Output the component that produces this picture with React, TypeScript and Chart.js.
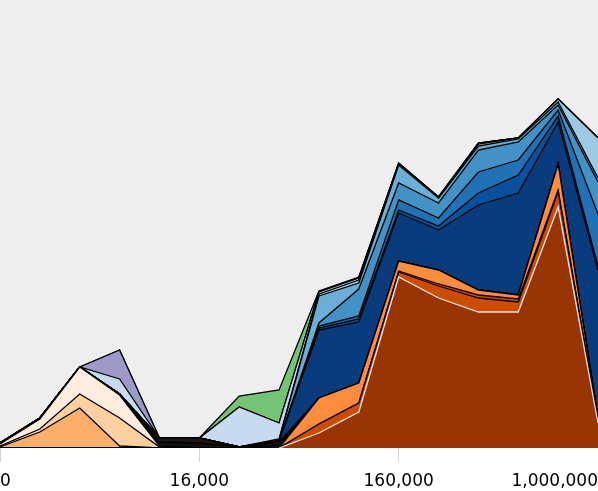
import React, { useEffect, useRef } from 'react';
import { Chart, registerables } from 'chart.js';

Chart.register(...registerables);

// x positions are 16 equally spaced steps; only four carry a label
const xTickLabels = ['0', '', '', '', '', '16,000', '', '', '', '', '160,000', '', '', '', '', '1,000,000'];

// layer values (bottom to top)
const brown = [0, 0, 0, 0, 0, 0, 0, 0, 15, 36, 171, 150, 136, 136, 241, 25];
const darkOrange = [0, 0, 0, 0, 0, 0, 0, 0, 9, 9, 5, 12, 14, 10, 15, 2];
const thinOrange = [0, 0, 0, 0, 0, 0, 0, 0, 0, 0, 1, 2, 3, 3, 2, 1];
const orange = [0, 0, 0, 0, 0, 0, 0, 0, 26, 20, 10, 14, 5, 4, 26, 2];
const lightOrange = [1, 16, 40, 2, 0, 0, 0, 0, 0, 0, 0, 0, 0, 0, 0, 0];
const peach = [1, 3, 14, 28, 1, 0, 0, 0, 0, 0, 0, 0, 0, 0, 0, 0];
const cream = [2, 10, 27, 23, 1, 0, 0, 0, 0, 0, 0, 0, 0, 0, 0, 0];
const darkA = [1, 1, 0, 1, 4, 5, 1, 3, 0, 0, 0, 0, 0, 0, 0, 0];
const darkB = [0, 0, 0, 0, 4, 5, 0, 3, 0, 0, 0, 0, 0, 0, 0, 0];
const navy = [0, 0, 0, 0, 0, 0, 0, 1, 68, 61, 48, 40, 85, 102, 42, 148];
const blue8 = [0, 0, 0, 0, 0, 0, 0, 0, 2, 3, 3, 4, 12, 18, 6, 4];
const blue7 = [0, 0, 0, 0, 0, 0, 0, 0, 2, 3, 10, 8, 21, 15, 6, 52];
const blue6 = [0, 0, 0, 0, 0, 0, 0, 0, 3, 27, 17, 15, 22, 18, 5, 32];
const blue5 = [0, 0, 0, 0, 0, 0, 0, 1, 27, 6, 18, 5, 4, 3, 3, 4];
const blue4 = [0, 0, 0, 0, 0, 0, 0, 1, 2, 3, 1, 1, 2, 1, 3, 40];
const pale = [0, 0, 0, 15, 0, 0, 40, 16, 2, 2, 1, 0, 1, 0, 0, 0];
const purple = [0, 0, 0, 29, 0, 0, 0, 0, 0, 0, 0, 0, 0, 0, 0, 0];
const green = [0, 0, 0, 0, 0, 0, 11, 33, 1, 1, 0, 0, 0, 0, 0, 0];

const layerValues = [brown, darkOrange, thinOrange, orange, lightOrange, peach, cream, darkA, darkB, navy, blue8, blue7, blue6, blue5, blue4, pale, purple, green];
const layerNames = ['brown', 'darkOrange', 'thinOrange', 'orange', 'lightOrange', 'peach', 'cream', 'darkA', 'darkB', 'navy', 'blue8', 'blue7', 'blue6', 'blue5', 'blue4', 'pale', 'purple', 'green'];
const layerColors = ['#993404', '#cc4c02', '#d94801', '#fd8d3c', '#fdae6b', '#fdd0a2', '#feedde', '#111111', '#1e1612', '#093c7c', '#08519c', '#2171b5', '#4292c6', '#6baed6', '#9ecae1', '#c6dbef', '#9e9ac8', '#74c476'];

export default function App() {
  const ref = useRef<HTMLCanvasElement>(null);

  useEffect(() => {
    document.body.style.margin = '0';
    const bg = {
      id: 'plotBg',
      beforeDraw(chart: any) {
        const { ctx, chartArea } = chart;
        ctx.save();
        ctx.fillStyle = '#eeeeee';
        ctx.fillRect(chartArea.left, chartArea.top, chartArea.right - chartArea.left, chartArea.bottom - chartArea.top);
        ctx.restore();
      },
    };
    const chart = new Chart(ref.current as HTMLCanvasElement, {
      type: 'line',
      data: {
        datasets: layerValues.map((vals, i) => ({
          label: layerNames[i],
          data: vals.map((v, j) => ({ x: j, y: v })),
          backgroundColor: layerColors[i],
          borderColor: i === 0 ? 'rgba(255,255,255,0.85)' : '#000',
          borderWidth: 1.3,
          fill: i === 0 ? 'origin' : '-1',
          pointRadius: 0,
          tension: 0,
          segment: i === 0
            ? { borderColor: (c: any) => (c.p0.parsed.y === 0 && c.p1.parsed.y === 0 ? 'rgba(0,0,0,0)' : undefined) }
            : undefined,
        })),
      },
      options: {
        animation: false,
        responsive: true,
        maintainAspectRatio: false,
        layout: { padding: 0 },
        plugins: { legend: { display: false }, tooltip: { enabled: false } },
        scales: {
          x: {
            type: 'linear',
            min: 0,
            max: 15,
            afterFit: (scale: any) => {
              scale.paddingLeft = 0;
              scale.paddingRight = 0;
              scale.height = 43;
            },
            ticks: {
              stepSize: 5,
              autoSkip: false,
              align: 'inner',
              maxRotation: 0,
              color: '#000',
              padding: 9,
              font: { family: 'DejaVu Sans', size: 17 },
              callback: (v: any) => xTickLabels[Math.round(Number(v))] ?? '',
            },
            grid: { drawOnChartArea: false, tickLength: 14, color: '#d4d4d4' },
            border: { display: false },
          },
          y: { display: false, stacked: true, min: 0, max: 448 },
        },
      },
      plugins: [bg],
    });
    return () => chart.destroy();
  }, []);

  return (
    <div style={{ position: 'fixed', left: 0, top: 0, width: 598, height: 491 }}>
      <canvas ref={ref} />
    </div>
  );
}
